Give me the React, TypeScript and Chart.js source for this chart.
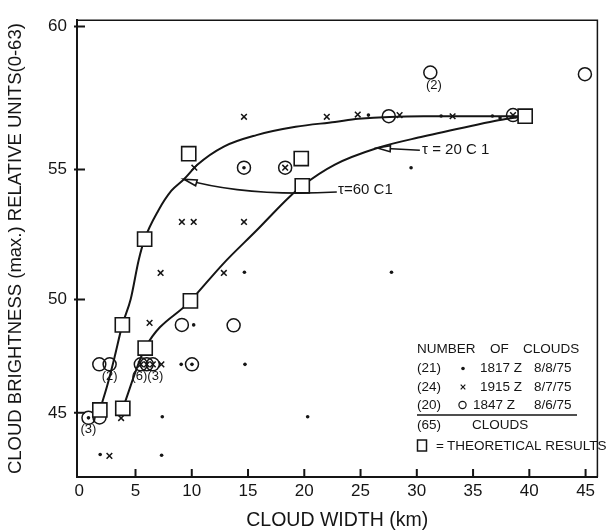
import React, { useEffect, useRef } from 'react';
import { Chart, registerables, LinearScale } from 'chart.js';

Chart.register(...registerables);

type Pt = { x: number; y: number };

// ---------- data ----------
const xTicks = [0, 5, 10, 15, 20, 25, 30, 35, 40, 45];
const yTicks = [45, 50, 55, 60];

// printed y axis is not evenly spaced: relative spacing of its tick marks
const yAxisKnots = [45, 50, 55, 60];
const yAxisKnotSpacing = [0, 115, 247, 392];

// (21) 1817 Z 8/8/75  — dots
const dots1817: Pt[] = [
  { x: 14.68, y: 51.05 }, { x: 10.17, y: 48.88 }, { x: 9.06, y: 47.14 }, { x: 14.73, y: 47.14 },
  { x: 7.38, y: 44.83 }, { x: 20.3, y: 44.83 }, { x: 1.86, y: 43.16 }, { x: 7.32, y: 43.13 },
  { x: 27.75, y: 51.05 }, { x: 29.49, y: 55.06 }, { x: 25.7, y: 56.9 }, { x: 32.16, y: 56.87 },
  { x: 36.72, y: 56.87 }, { x: 37.4, y: 56.8 }, { x: 14.64, y: 55.06 }, { x: 0.82, y: 44.78 },
  { x: 10.02, y: 47.14 },
];

// (24) 1915 Z 8/7/75 — crosses
const crosses1915: Pt[] = [
  { x: 14.64, y: 56.84 }, { x: 22.0, y: 56.84 }, { x: 10.23, y: 55.06 }, { x: 9.12, y: 52.98 },
  { x: 10.17, y: 52.98 }, { x: 14.64, y: 52.98 }, { x: 7.23, y: 51.02 }, { x: 12.85, y: 51.02 },
  { x: 6.25, y: 48.97 }, { x: 7.3, y: 47.14 }, { x: 3.72, y: 44.77 }, { x: 2.68, y: 43.1 },
  { x: 24.75, y: 56.92 }, { x: 28.47, y: 56.9 }, { x: 33.18, y: 56.86 }, { x: 18.3, y: 55.06 },
  { x: 38.55, y: 56.9 }, { x: 5.47, y: 47.14 }, { x: 6.0, y: 47.14 }, { x: 6.54, y: 47.14 },
];

// (20) 1847 Z 8/6/75 — open circles
const circles1847: Pt[] = [
  { x: 31.2, y: 58.39 }, { x: 44.94, y: 58.33 }, { x: 27.51, y: 56.86 }, { x: 9.12, y: 48.88 },
  { x: 13.72, y: 48.86 }, { x: 1.78, y: 47.14 }, { x: 2.7, y: 47.14 }, { x: 1.8, y: 44.8 },
  { x: 14.64, y: 55.06 }, { x: 18.3, y: 55.06 }, { x: 38.55, y: 56.9 }, { x: 5.47, y: 47.14 },
  { x: 6.0, y: 47.14 }, { x: 6.54, y: 47.14 }, { x: 0.82, y: 44.78 }, { x: 10.02, y: 47.14 },
];

// theoretical results — squares
const theoretical: Pt[] = [
  { x: 1.83, y: 45.13 }, { x: 3.87, y: 45.2 }, { x: 3.83, y: 48.88 }, { x: 5.86, y: 47.86 },
  { x: 5.81, y: 52.32 }, { x: 9.88, y: 49.94 }, { x: 9.73, y: 55.55 }, { x: 19.73, y: 55.38 },
  { x: 19.82, y: 54.37 }, { x: 39.63, y: 56.86 },
];

// fitted curves
const curveTau60: Pt[] = [
  { x: 1.83, y: 45.13 }, { x: 2.47, y: 46.17 }, { x: 3.11, y: 47.4 }, { x: 3.83, y: 48.88 },
  { x: 4.57, y: 50.01 }, { x: 5.29, y: 51.53 }, { x: 5.81, y: 52.32 }, { x: 7.03, y: 53.42 },
  { x: 8.19, y: 54.18 }, { x: 9.3, y: 54.62 }, { x: 10.52, y: 55.17 }, { x: 12.85, y: 55.8 },
  { x: 15.75, y: 56.2 }, { x: 19.23, y: 56.49 }, { x: 22.72, y: 56.66 }, { x: 24.8, y: 56.77 },
  { x: 30.6, y: 56.86 }, { x: 39.63, y: 56.86 },
];
const curveTau20: Pt[] = [
  { x: 3.87, y: 45.2 }, { x: 5.86, y: 47.86 }, { x: 9.88, y: 49.94 }, { x: 12.85, y: 51.4 },
  { x: 15.75, y: 52.65 }, { x: 18.65, y: 53.93 }, { x: 19.82, y: 54.37 }, { x: 22.72, y: 55.17 },
  { x: 26.49, y: 55.75 }, { x: 30.56, y: 56.15 }, { x: 34.92, y: 56.53 }, { x: 37.25, y: 56.72 },
  { x: 39.63, y: 56.86 },
];

// multiplicity labels under points
const countLabels = [
  { x: 31.52, y: 57.93, text: '(2)' },
  { x: 0.82, y: 44.29, text: '(3)' },
  { x: 2.7, y: 46.61, text: '(2)' },
  { x: 6.05, y: 46.61, text: '(6)(3)' },
];

// curve annotations
const tau20Label = { text: 'τ = 20 C 1', at: { x: 30.47, y: 55.67 }, tail: { x: 30.27, y: 55.67 }, tip: { x: 26.49, y: 55.75 } };
const tau60Label = { text: 'τ=60 C1', at: { x: 23.0, y: 54.2 }, tip: { x: 9.3, y: 54.62 }, ctrl: { x: 14.88, y: 53.94 }, end: { x: 22.89, y: 54.13 } };

// legend
const legendTitle = ['NUMBER', 'OF', 'CLOUDS'];
const legendRows = [
  { count: '(21)', mark: 'dot', time: '1817 Z', date: '8/8/75' },
  { count: '(24)', mark: 'cross', time: '1915 Z', date: '8/7/75' },
  { count: '(20)', mark: 'circle', time: '1847 Z', date: '8/6/75' },
];
const legendTotal = { count: '(65)', text: 'CLOUDS' };
const legendTheory = 'THEORETICAL RESULTS';

// ---------- styling ----------
const INK = '#151515';
const FONT = "'Liberation Sans', Arial, sans-serif";

// ---------- warped linear scale (matches printed axis spacing) ----------
function warp(v: number): number {
  const k = yAxisKnots, p = yAxisKnotSpacing, n = k.length;
  let i = 0;
  if (v >= k[n - 1]) i = n - 2;
  else if (v > k[0]) { while (v > k[i + 1]) i++; }
  return p[i] + ((v - k[i]) * (p[i + 1] - p[i])) / (k[i + 1] - k[i]);
}
function unwarp(w: number): number {
  const k = yAxisKnots, p = yAxisKnotSpacing, n = k.length;
  let i = 0;
  if (w >= p[n - 1]) i = n - 2;
  else if (w > p[0]) { while (w > p[i + 1]) i++; }
  return k[i] + ((w - p[i]) * (k[i + 1] - k[i])) / (p[i + 1] - p[i]);
}

class WarpScale extends LinearScale {
  static id = 'warp';
  static defaults = {};
  getPixelForValue(value: any) {
    if (value === null || value === undefined || isNaN(value)) return NaN;
    const a = warp((this as any).min), b = warp((this as any).max);
    return (this as any).getPixelForDecimal((warp(value) - a) / (b - a));
  }
  getValueForPixel(pixel: number) {
    const a = warp((this as any).min), b = warp((this as any).max);
    return unwarp(a + (this as any).getDecimalForPixel(pixel) * (b - a));
  }
}
Chart.registry.addScales(WarpScale as any);

// ---------- plugins ----------
const framePlugin = {
  id: 'frame',
  beforeDraw(chart: any) {
    const { ctx, width, height } = chart;
    ctx.save();
    ctx.fillStyle = '#fff';
    ctx.fillRect(0, 0, width, height);
    ctx.restore();
  },
  afterDraw(chart: any) {
    const { ctx, chartArea: ca, scales } = chart;
    ctx.save();
    ctx.strokeStyle = INK;
    ctx.lineWidth = 1.5;
    ctx.beginPath();
    ctx.moveTo(ca.left, ca.top);
    ctx.lineTo(ca.right, ca.top);
    ctx.lineTo(ca.right, ca.bottom);
    ctx.stroke();
    ctx.lineWidth = 2;
    ctx.beginPath();
    for (const t of scales.x.ticks) {
      if (t.value === 0) continue;
      const px = scales.x.getPixelForValue(t.value);
      ctx.moveTo(px, ca.bottom + 1);
      ctx.lineTo(px, ca.bottom - 8);
    }
    for (const t of scales.y.ticks) {
      const py = scales.y.getPixelForValue(t.value);
      ctx.moveTo(ca.left - 3, py);
      ctx.lineTo(ca.left + 8, py);
    }
    ctx.stroke();
    ctx.restore();
  },
};

function arrowHead(ctx: CanvasRenderingContext2D, tip: { x: number; y: number }, from: { x: number; y: number }) {
  const ang = Math.atan2(tip.y - from.y, tip.x - from.x);
  const len = 13, hw = 3;
  const bx = tip.x - Math.cos(ang) * len, by = tip.y - Math.sin(ang) * len;
  const nx = -Math.sin(ang) * hw, ny = Math.cos(ang) * hw;
  ctx.beginPath();
  ctx.moveTo(tip.x, tip.y);
  ctx.lineTo(bx + nx, by + ny);
  ctx.lineTo(bx - nx, by - ny);
  ctx.closePath();
  ctx.fillStyle = '#fff';
  ctx.fill();
  ctx.stroke();
}

const annotationPlugin = {
  id: 'annotations',
  afterDatasetsDraw(chart: any) {
    const { ctx, scales } = chart;
    const P = (p: Pt) => ({ x: scales.x.getPixelForValue(p.x), y: scales.y.getPixelForValue(p.y) });
    ctx.save();
    ctx.strokeStyle = INK;
    ctx.fillStyle = INK;
    ctx.lineWidth = 1.6;

    // tau = 20 arrow
    const t20a = P(tau20Label.tail), t20b = P(tau20Label.tip);
    ctx.beginPath();
    ctx.moveTo(t20a.x, t20a.y);
    ctx.lineTo(t20b.x, t20b.y);
    ctx.stroke();
    arrowHead(ctx, t20b, t20a);

    // tau = 60 arrow (curved)
    const t60tip = P(tau60Label.tip), t60c = P(tau60Label.ctrl), t60e = P(tau60Label.end);
    ctx.beginPath();
    ctx.moveTo(t60e.x, t60e.y);
    ctx.quadraticCurveTo(t60c.x, t60c.y, t60tip.x, t60tip.y);
    ctx.stroke();
    arrowHead(ctx, t60tip, t60c);

    ctx.fillStyle = INK;
    ctx.font = `15px ${FONT}`;
    ctx.textBaseline = 'middle';
    ctx.textAlign = 'left';
    const a20 = P(tau20Label.at);
    ctx.fillText(tau20Label.text, a20.x, a20.y);
    const a60 = P(tau60Label.at);
    ctx.fillText(tau60Label.text, a60.x, a60.y);

    // count labels
    ctx.font = `13px ${FONT}`;
    ctx.textAlign = 'center';
    for (const c of countLabels) {
      const p = P(c);
      ctx.fillText(c.text, p.x, p.y);
    }
    ctx.restore();
  },
  afterDraw(chart: any) {
    const { ctx, chartArea: ca } = chart;
    const L = ca.left + 340; // legend left edge
    const B = ca.bottom;
    ctx.save();
    ctx.fillStyle = INK;
    ctx.strokeStyle = INK;
    ctx.font = `13.5px ${FONT}`;
    ctx.textBaseline = 'middle';
    ctx.textAlign = 'left';
    // title
    const titleX = [L, L + 73, L + 106];
    legendTitle.forEach((w, i) => ctx.fillText(w, titleX[i], B - 128));
    // rows
    const rowY = [B - 108.5, B - 90, B - 72];
    const timeX = [L + 63, L + 63, L + 56];
    legendRows.forEach((r, i) => {
      const y = rowY[i];
      ctx.fillText(r.count, L, y);
      const mx = L + 46;
      ctx.lineWidth = 1.2;
      if (r.mark === 'dot') {
        ctx.beginPath(); ctx.arc(mx, y, 1.8, 0, Math.PI * 2); ctx.fill();
      } else if (r.mark === 'cross') {
        ctx.beginPath();
        ctx.moveTo(mx - 2.3, y - 2.3); ctx.lineTo(mx + 2.3, y + 2.3);
        ctx.moveTo(mx + 2.3, y - 2.3); ctx.lineTo(mx - 2.3, y + 2.3);
        ctx.stroke();
      } else {
        ctx.beginPath(); ctx.arc(mx - 0.5, y, 3.6, 0, Math.PI * 2); ctx.stroke();
      }
      ctx.fillText(r.time, timeX[i], y);
      ctx.fillText(r.date, L + 117, y);
    });
    // underline
    ctx.lineWidth = 1.5;
    ctx.beginPath();
    ctx.moveTo(L, B - 62);
    ctx.lineTo(L + 160, B - 62);
    ctx.stroke();
    // total
    ctx.fillText(legendTotal.count, L, B - 52);
    ctx.fillText(legendTotal.text, L + 55, B - 52);
    // theoretical
    ctx.strokeRect(L + 0.5, B - 37, 9, 11);
    ctx.fillText('=', L + 19, B - 31);
    ctx.fillText(legendTheory, L + 30, B - 31);
    ctx.restore();
  },
};

// ---------- component ----------
export default function App() {
  const ref = useRef<HTMLCanvasElement | null>(null);
  useEffect(() => {
    if (!ref.current) return;
    Chart.defaults.font.family = FONT;
    Chart.defaults.color = INK;
    const chart = new Chart(ref.current, {
      type: 'scatter',
      data: {
        datasets: [
          {
            label: 'τ=60 C1',
            data: curveTau60,
            showLine: true,
            borderColor: INK,
            borderWidth: 2,
            pointRadius: 0,
            cubicInterpolationMode: 'monotone',
            fill: false,
            order: 10,
          },
          {
            label: 'τ=20 C1',
            data: curveTau20,
            showLine: true,
            borderColor: INK,
            borderWidth: 2,
            pointRadius: 0,
            cubicInterpolationMode: 'monotone',
            fill: false,
            order: 9,
          },
          {
            label: '1847 Z 8/6/75',
            data: circles1847,
            pointStyle: 'circle',
            pointRadius: 6.5,
            borderColor: INK,
            borderWidth: 1.5,
            backgroundColor: 'rgba(255,255,255,0)',
            order: 4,
          },
          {
            label: '1817 Z 8/8/75',
            data: dots1817,
            pointStyle: 'circle',
            pointRadius: 1.8,
            borderWidth: 0,
            backgroundColor: INK,
            borderColor: INK,
            order: 3,
          },
          {
            label: '1915 Z 8/7/75',
            data: crosses1915,
            pointStyle: 'crossRot',
            pointRadius: 4,
            borderWidth: 1.5,
            borderColor: INK,
            order: 2,
          },
          {
            label: 'THEORETICAL RESULTS',
            data: theoretical,
            pointStyle: 'rect',
            pointRadius: 10,
            borderWidth: 1.6,
            borderColor: INK,
            backgroundColor: '#fff',
            order: 1,
          },
        ] as any,
      },
      options: {
        animation: false,
        responsive: false,
        events: [],
        layout: { padding: { top: 13.5, right: 1.5, left: 0, bottom: 0 } },
        plugins: { legend: { display: false }, tooltip: { enabled: false } },
        scales: {
          x: {
            type: 'linear',
            position: 'bottom',
            min: -0.2,
            max: 46.05,
            bounds: 'data',
            afterBuildTicks: (s: any) => { s.ticks = xTicks.map((v) => ({ value: v })); },
            afterFit: (s: any) => { s.height = 55; },
            grid: { display: false, drawTicks: false },
            border: { display: true, color: INK, width: 2 },
            ticks: { color: INK, font: { family: FONT, size: 17 }, padding: 4, maxRotation: 0, autoSkip: false },
            title: {
              display: true,
              text: 'CLOUD WIDTH (km)',
              color: INK,
              font: { family: FONT, size: 19.5 },
              padding: { top: 0, bottom: 0 },
            },
          },
          y: {
            type: 'warp' as any,
            position: 'left',
            min: 42.17,
            max: 60.22,
            bounds: 'data',
            afterBuildTicks: (s: any) => { s.ticks = yTicks.map((v) => ({ value: v })); },
            afterFit: (s: any) => { s.width = 77; },
            grid: { display: false, drawTicks: false },
            border: { display: true, color: INK, width: 2 },
            ticks: { color: INK, font: { family: FONT, size: 17 }, padding: 10 },
            title: {
              display: true,
              text: 'CLOUD BRIGHTNESS (max.) RELATIVE UNITS(0-63)',
              color: INK,
              font: { family: FONT, size: 18.5 },
              padding: { top: 5, bottom: 0 },
            },
          },
        } as any,
      },
      plugins: [framePlugin, annotationPlugin],
    });
    return () => chart.destroy();
  }, []);
  return (
    <div style={{ position: 'absolute', left: 0, top: 0, width: 609, height: 532, background: '#fff' }}>
      <canvas ref={ref} width={609} height={532} style={{ display: 'block', width: 609, height: 532 }} />
    </div>
  );
}
